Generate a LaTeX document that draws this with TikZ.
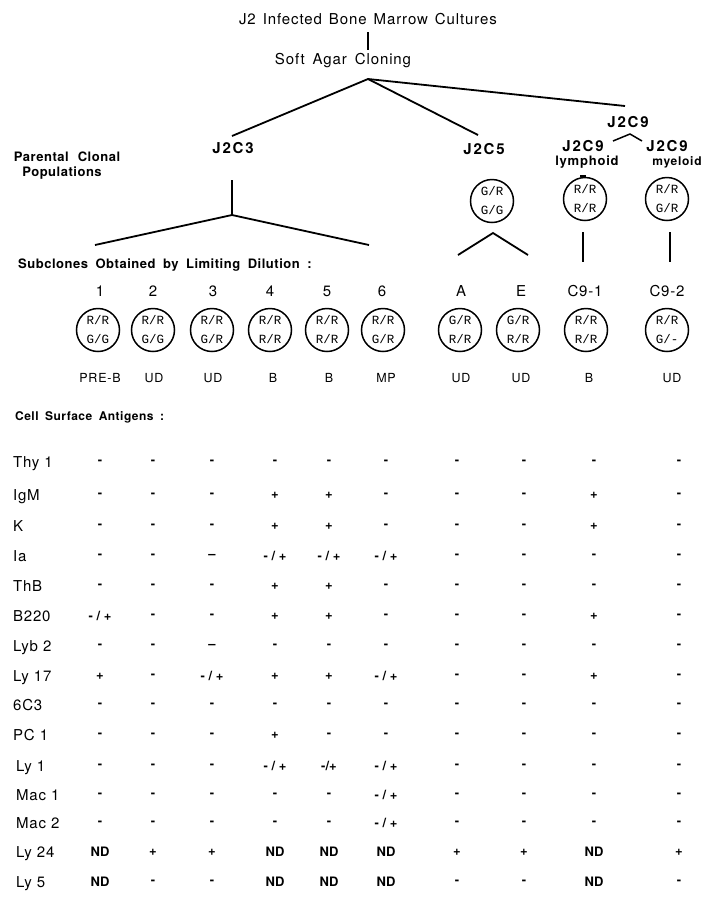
\documentclass[tikz,border=0pt]{standalone}
\usepackage{fontspec}
\setmainfont{TeX Gyre Heros}
\newfontfamily\hrg[LetterSpace=6]{TeX Gyre Heros}
\newfontfamily\hrl[LetterSpace=5]{TeX Gyre Heros}
\newfontfamily\hbd[LetterSpace=4]{TeX Gyre Heros Bold}
\newfontfamily\hbw[LetterSpace=12]{TeX Gyre Heros Bold}
\newfontfamily\hbn[LetterSpace=6]{TeX Gyre Heros Bold}
\newfontfamily\hmk{TeX Gyre Heros Bold}
\newfontfamily\circfont{Liberation Mono}
\newcommand\mpm{- / +}
\newcommand\ttlfont{\hrg\fontsize{15}{17}\selectfont\spaceskip 7pt\relax}
\newcommand\softfont{\hrg\fontsize{15}{17}\selectfont\spaceskip 8pt\relax}
\newcommand\lblfont{\hbd\fontsize{13}{15}\selectfont\spaceskip 9pt\relax}
\newcommand\subfont{\hbd\fontsize{13}{15}\selectfont\spaceskip 7.5pt\relax}
\newcommand\csafont{\hbd\fontsize{12}{14}\selectfont\spaceskip 6.5pt\relax}
\newcommand\rowfont{\hrl\fontsize{15}{17}\selectfont\spaceskip 5pt\relax}
\tikzset{
  ttl/.style={font=\ttlfont, inner sep=0pt},
  clone/.style={font=\hbw\fontsize{15}{17}\selectfont, inner sep=0pt},
  lbl/.style={font=\lblfont, inner sep=0pt},
  num/.style={font=\hrl\fontsize{15}{17}\selectfont, inner sep=0pt},
  typ/.style={font=\hrg\fontsize{12.5}{14}\selectfont, inner sep=0pt},
  rowlbl/.style={font=\rowfont, inner sep=0pt, anchor=base west},
  mk/.style={font=\hmk\fontsize{13}{15}\selectfont, inner sep=0pt},
  cell/.style={circle, draw, line width=1.5pt, minimum size=43pt, inner sep=0pt,
    align=center, font=\circfont\fontsize{12.5}{19}\selectfont},
  tree/.style={line width=1.8pt},
  thin/.style={line width=1.5pt}
}
\begin{document}
\begin{tikzpicture}[x=1pt,y=-1pt]
\useasboundingbox (0,0) rectangle (703,898);
% --- top of tree
\node[ttl] (title) at (368,19) {J2 Infected Bone Marrow Cultures};
\node[ttl, font=\softfont] (soft) at (343,61) {Soft Agar Cloning};
\coordinate (t1) at (368,32); \coordinate (t2) at (368,50);
\draw[thin] (t1) -- (t2);
\coordinate (apex) at (368,79);
\coordinate (c3top) at (232,136);
\coordinate (c5top) at (478,135);
\coordinate (c9top) at (625,106);
\draw[tree] (c3top) -- (apex) -- (c5top);
\draw[tree] (apex) -- (c9top);
% --- parental clones
\node[clone] (j2c9) at (628,122) {J2C9};
\coordinate (k1) at (613,141); \coordinate (k2) at (630,134); \coordinate (k3) at (642,141);
\draw[thin] (k1) -- (k2) -- (k3);
\node[clone] (j2c3) at (233,148) {J2C3};
\node[clone] (j2c5) at (484,149) {J2C5};
\node[clone] (j2c9l) at (583,146) {J2C9};
\node[font=\hbn\fontsize{13}{15}\selectfont, inner sep=0pt] (lymph) at (587,162) {lymphoid};
\node[clone] (j2c9m) at (667,146) {J2C9};
\node[font=\hbn\fontsize{12}{14}\selectfont, inner sep=0pt] (myel) at (677,162) {myeloid};
\node[lbl] (par1) at (67,157) {Parental Clonal};
\node[lbl] (par2) at (62,173) {Populations};
% J2C3 split
\coordinate (s3a) at (232,180); \coordinate (s3b) at (232,215);
\coordinate (s3l) at (95,245); \coordinate (s3r) at (369,245);
\draw[thin] (s3a) -- (s3b);
\draw[tree] (s3l) -- (s3b) -- (s3r);
% parental circles
\node[cell] (p5) at (492,201) {G/R\\G/G};
\node[cell] (p9l) at (585,199) {R/R\\R/R};
\node[cell] (p9m) at (667,199) {R/R\\G/R};
\coordinate (tk1) at (580,176); \coordinate (tk2) at (586,176);
\draw[line width=2pt] (tk1) -- (tk2);
\coordinate (v5l) at (458,255); \coordinate (v5a) at (493,233); \coordinate (v5r) at (528,255);
\draw[tree] (v5l) -- (v5a) -- (v5r);
\coordinate (v9a) at (583,232); \coordinate (v9b) at (583,262);
\coordinate (v9c) at (670,232); \coordinate (v9d) at (670,262);
\draw[thin] (v9a) -- (v9b);
\draw[thin] (v9c) -- (v9d);
% --- subclones
\node[lbl, anchor=west, font=\subfont] (sub) at (18,265) {Subclones Obtained by Limiting Dilution :};
\foreach \x/\n/\c/\a/\b [count=\i] in {
  100/1/98/{R/R}/{G/G},
  153/2/153/{R/R}/{G/G},
  213/3/212/{R/R}/{G/R},
  270/4/270/{R/R}/{R/R},
  327/5/327/{R/R}/{R/R},
  382/6/383/{R/R}/{G/R},
  461/A/460/{G/R}/{R/R},
  521/E/518/{G/R}/{R/R},
  585/C9-1/586/{R/R}/{R/R},
  667/C9-2/667/{R/R}/{G/-}}{
  \node[num] (n\i) at (\x,291) {\n};
  \node[cell] (s\i) at (\c,330) {\a\\\b};
}
\foreach \x/\t [count=\i] in {100/PRE-B,154/UD,213/UD,273/B,329/B,386/MP,461/UD,521/UD,589/B,672/UD}
  \node[typ] (ty\i) at (\x,378) {\t};
% --- antigens
\node[lbl, anchor=west, font=\csafont] (csa) at (15,417) {Cell Surface Antigens :};
\coordinate (col1) at (100,0); \coordinate (col2) at (153,0);
\coordinate (col3) at (212,0); \coordinate (col4) at (275,0);
\coordinate (col5) at (329,0); \coordinate (col6) at (386,0);
\coordinate (col7) at (457,0); \coordinate (col8) at (524,0);
\coordinate (col9) at (594,0); \coordinate (col10) at (679,0);
\foreach \y/\lx/\lbl/\vals [count=\r] in {
  462/13/Thy 1/{-,-,-,-,-,-,-,-,-,-},
  495/13/IgM/{-,-,-,+,+,-,-,-,+,-},
  526/13/K/{-,-,-,+,+,-,-,-,+,-},
  556/13/Ia/{-,-,–,\mpm,\mpm,\mpm,-,-,-,-},
  586/13/ThB/{-,-,-,+,+,-,-,-,-,-},
  616/13/B220/{\mpm,-,-,+,+,-,-,-,+,-},
  646/13/Lyb 2/{-,-,–,-,-,-,-,-,-,-},
  676/13/Ly 17/{+,-,\mpm,+,+,\mpm,-,-,+,-},
  705/13/6C3/{-,-,-,-,-,-,-,-,-,-},
  735/13/PC 1/{-,-,-,+,-,-,-,-,-,-},
  766/16/Ly 1/{-,-,-,\mpm,-/+,\mpm,-,-,-,-},
  795/16/Mac 1/{-,-,-,-,-,\mpm,-,-,-,-},
  823/16/Mac 2/{-,-,-,-,-,\mpm,-,-,-,-},
  852/16/Ly 24/{ND,+,+,ND,ND,ND,+,+,ND,+},
  882/16/Ly 5/{ND,-,-,ND,ND,ND,-,-,ND,-}}{
  \node[rowlbl] (lab\r) at (\lx,\y+5.3) {\lbl};
  \foreach \v [count=\i] in \vals
    \node[mk] (m\r-\i) at (col\i |- 0,\y) {\v};
}
\end{tikzpicture}
\end{document}
